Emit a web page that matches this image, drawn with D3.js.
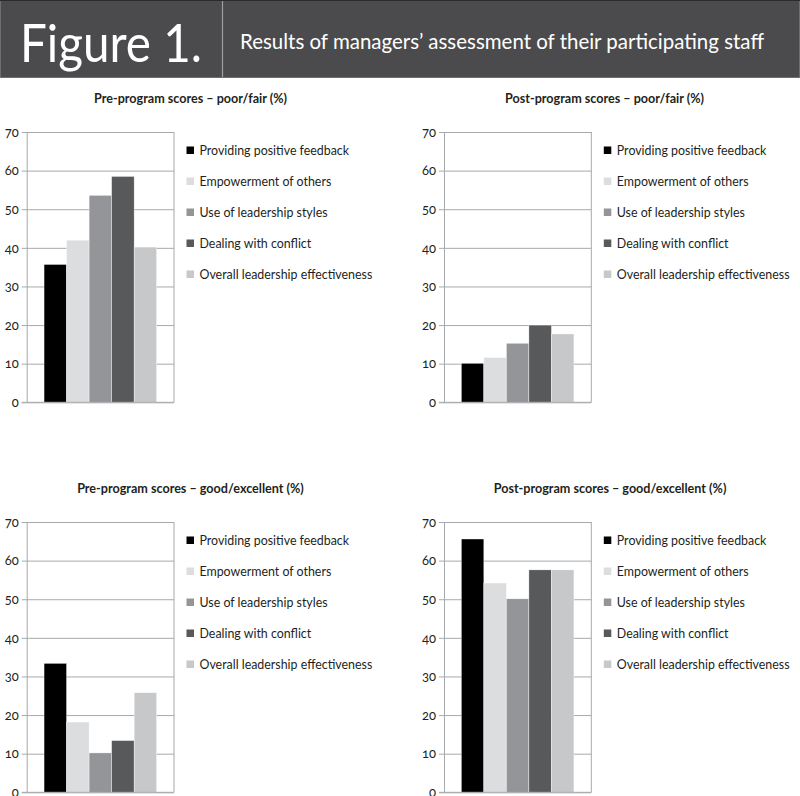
<!DOCTYPE html>
<html><head><meta charset="utf-8">
<script src="https://cdn.jsdelivr.net/npm/d3@7"></script>
<style>
body{margin:0;background:#fff;}
svg{display:block;font-family:Lato,"Open Sans",sans-serif;}
</style></head>
<body>
<svg id="c" width="800" height="796"></svg>
<script>
const categories = ["Providing positive feedback","Empowerment of others","Use of leadership styles","Dealing with conflict","Overall leadership effectiveness"];
const colors = ["#000000","#dcdddf","#939598","#58595b","#c7c8ca"];
const titles = ["Pre-program scores – poor/fair (%)","Post-program scores – poor/fair (%)","Pre-program scores – good/excellent (%)","Post-program scores – good/excellent (%)"];
const prePoorFair = [35.7, 42, 53.6, 58.5, 40.2];
const postPoorFair = [10.1, 11.6, 15.3, 20, 17.7];
const preGoodExcellent = [33.4, 18.2, 10.2, 13.4, 25.8];
const postGoodExcellent = [65.6, 54.2, 50.1, 57.6, 57.6];
const yTicks = [0,10,20,30,40,50,60,70];
const figureLabel = "Figure 1.";
const figureTitle = "Results of managers’ assessment of their participating staff";

const seriesList = [prePoorFair, postPoorFair, preGoodExcellent, postGoodExcellent];
const svg = d3.select("#c");

// header
svg.append("rect").attr("x",0.5).attr("y",0.5).attr("width",799).attr("height",77)
  .attr("fill","#4b4b4d").attr("stroke","#6d6e70").attr("stroke-width",1);
svg.append("line").attr("x1",0).attr("x2",800).attr("y1",0.5).attr("y2",0.5).attr("stroke","#2b2b2b");
svg.append("line").attr("x1",222.5).attr("x2",222.5).attr("y1",1).attr("y2",77).attr("stroke","#9d9fa2").attr("stroke-width",1.2);
svg.append("text").attr("x",20).attr("y",62).attr("fill","#fff")
  .attr("font-size",53).attr("font-family","Lato, sans-serif").attr("textLength",182).attr("lengthAdjust","spacingAndGlyphs").text(figureLabel);
svg.append("text").attr("x",240).attr("y",49).attr("fill","#fff")
  .attr("font-size",20.5).attr("font-family","Lato, sans-serif").attr("textLength",524).attr("lengthAdjust","spacingAndGlyphs").text(figureTitle);

const pw = 147.3, ph = 270.3;
const origins = [[26.7,132],[444,132],[26.7,522],[444,522]];
const titleCenters = [190.5,604.5,190.5,610];

const x = d3.scaleBand().domain(categories).range([0,pw]).paddingInner(0).paddingOuter(0.77);
const y = d3.scaleLinear().domain([0,70]).range([ph,0]);

seriesList.forEach((vals,i)=>{
  const [ox,oy] = origins[i];
  const g = svg.append("g").attr("transform",`translate(${ox},${oy})`);
  // title
  svg.append("text").attr("x",titleCenters[i]).attr("y",oy-29.5).attr("text-anchor","middle")
    .attr("font-size",12.6).attr("font-weight",700).attr("fill","#231f20").text(titles[i]);
  // gridlines + axis
  const ax = d3.axisLeft(y).tickValues(yTicks).tickSize(-pw).tickPadding(8).tickSizeOuter(0);
  const ag = g.append("g").call(ax);
  ag.select(".domain").attr("stroke","#a7a9ac");
  ag.selectAll(".tick line").attr("stroke","#a7a9ac").attr("x1",-5);
  ag.selectAll(".tick text").attr("font-size",13).attr("fill","#231f20")
    .style("font-variant-numeric","oldstyle-nums").style("font-feature-settings","'onum' 1").attr("font-family","Lato, sans-serif");
  // right border
  g.append("line").attr("x1",pw).attr("x2",pw).attr("y1",0).attr("y2",ph).attr("stroke","#a7a9ac");
  // bars
  g.selectAll("rect.bar").data(vals).join("rect").attr("class","bar")
    .attr("x",(d,j)=>x(categories[j])).attr("width",x.bandwidth())
    .attr("y",d=>y(d)).attr("height",d=>ph-y(d))
    .attr("fill",(d,j)=>colors[j]).attr("stroke","#fff").attr("stroke-width",0.4);
  // bottom axis line on top
  g.append("line").attr("x1",-5).attr("x2",pw).attr("y1",ph).attr("y2",ph).attr("stroke","#a7a9ac");
  // legend
  const lg = g.append("g").attr("transform",`translate(${pw+12.5},0)`);
  categories.forEach((c,j)=>{
    const cy = 18 + j*31;
    lg.append("rect").attr("x",0).attr("y",cy-3.5).attr("width",7.5).attr("height",7.5).attr("fill",colors[j]);
    lg.append("text").attr("x",13).attr("y",cy+4.5).attr("font-size",12.4).attr("fill","#231f20").text(c);
  });
});
</script>
</body></html>
